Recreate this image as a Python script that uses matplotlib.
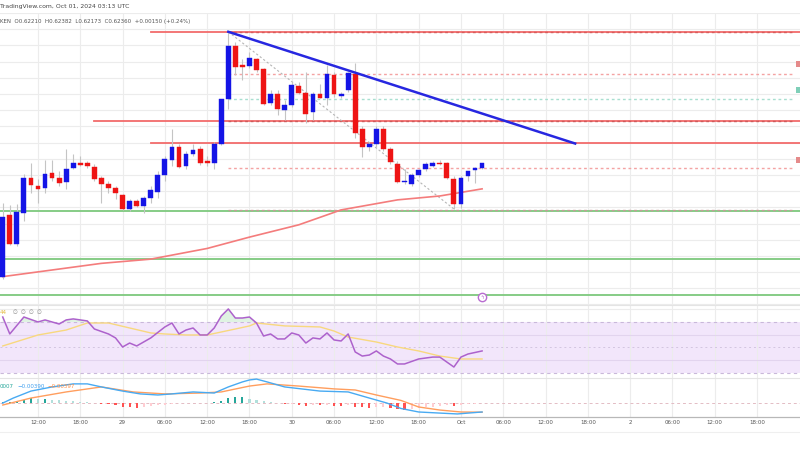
import matplotlib
matplotlib.use("Agg")
import matplotlib.pyplot as plt
from matplotlib.lines import Line2D
from matplotlib.patches import Rectangle
import numpy as np

# XRP/USD 1h candles, x = hours since 28 Sep 2024 00:00 UTC
candle_hours = list(range(7, 76))
opens = [0.5884, 0.6077, 0.5988, 0.6083, 0.6190, 0.6166, 0.6160, 0.6206, 0.6190, 0.6178,
         0.6221, 0.6236, 0.6236, 0.6224, 0.6190, 0.6172, 0.6160, 0.6138, 0.6095, 0.6120,
         0.6105, 0.6129, 0.6147, 0.6199, 0.6245, 0.6285, 0.6227, 0.6264, 0.6279, 0.6242,
         0.6236, 0.6297, 0.6435, 0.6598, 0.6539, 0.6536, 0.6558, 0.6527, 0.6423, 0.6451,
         0.6402, 0.6417, 0.6475, 0.6454, 0.6395, 0.6451, 0.6438, 0.6509, 0.6444, 0.6463,
         0.6512, 0.6343, 0.6285, 0.6294, 0.6343, 0.6279, 0.6233, 0.6178, 0.6172, 0.6199,
         0.6218, 0.6227, 0.6236, 0.6236, 0.6187, 0.6111, 0.6196, 0.6215, 0.6221]
highs = [0.6114, 0.6108, 0.6111, 0.6203, 0.6236, 0.6187, 0.6245, 0.6245, 0.6212, 0.6279,
         0.6264, 0.6258, 0.6242, 0.6233, 0.6196, 0.6181, 0.6166, 0.6141, 0.6126, 0.6126,
         0.6135, 0.6166, 0.6212, 0.6258, 0.6343, 0.6294, 0.6273, 0.6297, 0.6288, 0.6258,
         0.6303, 0.6435, 0.6642, 0.6610, 0.6558, 0.6579, 0.6561, 0.6530, 0.6463, 0.6463,
         0.6432, 0.6487, 0.6487, 0.6518, 0.6457, 0.6481, 0.6539, 0.6518, 0.6457, 0.6518,
         0.6545, 0.6350, 0.6303, 0.6350, 0.6350, 0.6285, 0.6242, 0.6218, 0.6206, 0.6218,
         0.6239, 0.6242, 0.6245, 0.6239, 0.6196, 0.6196, 0.6212, 0.6224, 0.6238]
lows = [0.5880, 0.5985, 0.5982, 0.6059, 0.6144, 0.6114, 0.6144, 0.6181, 0.6166, 0.6157,
        0.6218, 0.6229, 0.6221, 0.6181, 0.6114, 0.6144, 0.6126, 0.6093, 0.6089, 0.6102,
        0.6083, 0.6114, 0.6129, 0.6181, 0.6227, 0.6222, 0.6218, 0.6258, 0.6230, 0.6227,
        0.6218, 0.6291, 0.6405, 0.6509, 0.6493, 0.6530, 0.6518, 0.6417, 0.6417, 0.6386,
        0.6371, 0.6411, 0.6451, 0.6359, 0.6371, 0.6437, 0.6417, 0.6441, 0.6438, 0.6457,
        0.6313, 0.6255, 0.6273, 0.6285, 0.6273, 0.6233, 0.6175, 0.6172, 0.6166, 0.6193,
        0.6212, 0.6224, 0.6230, 0.6187, 0.6095, 0.6098, 0.6181, 0.6175, 0.6217]
closes = [0.6071, 0.5988, 0.6086, 0.6190, 0.6169, 0.6157, 0.6203, 0.6190, 0.6175, 0.6218,
          0.6236, 0.6231, 0.6227, 0.6187, 0.6172, 0.6160, 0.6144, 0.6095, 0.6120, 0.6105,
          0.6129, 0.6154, 0.6199, 0.6248, 0.6285, 0.6224, 0.6264, 0.6276, 0.6236, 0.6236,
          0.6297, 0.6435, 0.6598, 0.6533, 0.6533, 0.6561, 0.6524, 0.6420, 0.6451, 0.6405,
          0.6417, 0.6478, 0.6454, 0.6389, 0.6451, 0.6439, 0.6512, 0.6451, 0.6451, 0.6515,
          0.6331, 0.6285, 0.6297, 0.6343, 0.6279, 0.6239, 0.6178, 0.6179, 0.6199, 0.6215,
          0.6233, 0.6236, 0.6233, 0.6190, 0.6111, 0.6190, 0.6212, 0.6221, 0.6236]

# 100 hourly SMA
sma_hours = [7, 21, 28, 36, 42, 49, 55, 63, 69, 75]
sma_vals = [0.5886, 0.5927, 0.5940, 0.5973, 0.6008, 0.6046, 0.6092, 0.6123, 0.6135, 0.6157]

# drawn levels
red_levels = [0.6642, 0.6365, 0.6300]
red_starts = [28, 20, 28]
green_levels = [0.6089, 0.5941, 0.5829]
trend_hours = [39, 88.2]
trend_vals = [0.6642, 0.6297]
fib_line_hours = [39, 71]
fib_line_vals = [0.6642, 0.6095]
fib_levels = [0.6642, 0.6512, 0.6435, 0.6368, 0.6221, 0.6092]
fib_colors = ["#d85c5c", "#f4a3a3", "#a8dfd0", "#cf5a5a", "#f4a3a3", "#c79a9a"]

# RSI (14) and its MA
rsi_hours = [7, 8, 10, 12, 13, 15, 16, 17, 19, 20, 22, 23, 24, 25, 26, 28, 30, 31, 32, 33,
             34, 35, 36, 37, 38, 39, 40, 41, 42, 43, 44, 45, 46, 47, 48, 49, 50, 51, 52, 53,
             54, 55, 56, 57, 58, 59, 60, 61, 62, 63, 64, 66, 68, 69, 70, 71, 72, 73, 75]
rsi_vals = [73.9, 60.6, 73.9, 70.0, 71.6, 68.4, 71.6, 72.4, 70.8, 64.5, 60.6, 57.5, 50.4, 53.5,
            51.2, 57.5, 66.1, 69.2, 60.6, 63.7, 65.3, 59.8, 59.8, 65.3, 74.7, 80.2, 73.1, 73.1,
            73.9, 69.2, 59.0, 60.6, 56.7, 56.7, 61.4, 59.8, 53.5, 57.5, 56.7, 61.4, 55.9, 55.1,
            60.6, 46.5, 43.3, 44.1, 47.3, 43.3, 41.0, 37.1, 37.1, 41.0, 42.5, 42.5, 38.6, 34.7,
            42.5, 44.9, 47.3]
rsima_hours = [7, 12, 16, 19, 22, 25, 28, 30, 33, 36, 40, 42, 43, 47, 52, 54, 56, 60, 63, 66, 69, 72, 75]
rsima_vals = [51.2, 59.8, 63.7, 69.2, 69.2, 65.3, 61.4, 60.6, 59.8, 59.8, 64.5, 66.9, 69.2, 66.9,
              66.1, 62.9, 58.2, 54.3, 50.4, 47.3, 43.3, 41.0, 41.0]

# MACD
macd_hours = [7, 8.5, 11, 14, 17, 19, 21, 24, 26.5, 29, 31, 34, 37, 39, 41, 42, 43, 44.5, 47,
              52, 56, 59, 61.5, 63.5, 66, 69, 71.5, 75]
macd_vals = [0.0002, 0.0025, 0.0057, 0.0076, 0.0090, 0.0090, 0.0076, 0.0057, 0.0044, 0.0039,
             0.0044, 0.0053, 0.0048, 0.0076, 0.0099, 0.0108, 0.0112, 0.0099, 0.0076, 0.0057,
             0.0053, 0.0025, 0.0002, -0.0023, -0.0039, -0.0044, -0.0048, -0.0039]
signal_hours = [7, 11, 16, 21, 25.5, 30, 35, 38, 42, 44.5, 49, 54, 57, 60, 63.5, 66, 69, 72, 75]
signal_vals = [-0.0007, 0.0025, 0.0053, 0.0076, 0.0053, 0.0044, 0.0048, 0.0053, 0.0080, 0.0090,
               0.0080, 0.0067, 0.0062, 0.0039, 0.0014, -0.0016, -0.0030, -0.0039, -0.0040]
hist_vals = [0.0005, 0.0008, 0.0012, 0.0018, 0.0025, 0.0022, 0.0022, 0.0018, 0.0015, 0.0013,
             0.0012, 0.0008, 0.0005, 0.0002, -0.0002, -0.0004, -0.0008, -0.0014, -0.0018, -0.0021,
             -0.0016, -0.0012, -0.0008, -0.0005, -0.0002, 0.0002, 0.0003, 0.0004, 0.0002, 0.0001,
             0.0006, 0.0012, 0.0025, 0.0028, 0.0028, 0.0022, 0.0018, 0.0010, 0.0006, 0.0002,
             -0.0003, -0.0002, -0.0005, -0.0010, -0.0006, -0.0008, -0.0005, -0.0010, -0.0010, -0.0008,
             -0.0014, -0.0018, -0.0021, -0.0018, -0.0016, -0.0020, -0.0025, -0.0030, -0.0026, -0.0022,
             -0.0018, -0.0014, -0.0010, -0.0008, -0.0012, -0.0006, -0.0003, -0.0001, 0.0001]

tick_hours = [12, 18, 24, 30, 36, 42, 48, 54, 60, 66, 72, 78, 84, 90, 96, 102, 108, 114]
tick_labels = ["12:00", "18:00", "29", "06:00", "12:00", "18:00", "30", "06:00", "12:00",
               "18:00", "Oct", "06:00", "12:00", "18:00", "2", "06:00", "12:00", "18:00"]

UP = "#1414e6"
DOWN = "#ee1414"
GRID = "#ececec"
XMIN, XMAX = 6.61, 120.1

fig = plt.figure(figsize=(8, 4.5), dpi=100)
ax = fig.add_axes([0, 1 - 305 / 450, 1, 292 / 450])
ax_rsi = fig.add_axes([0, 1 - 378 / 450, 1, 73 / 450], sharex=ax)
ax_macd = fig.add_axes([0, 1 - 417 / 450, 1, 39 / 450], sharex=ax)

for a in (ax, ax_rsi, ax_macd):
    for s in a.spines.values():
        s.set_visible(False)
    a.tick_params(length=0, labelleft=False, labelbottom=False)
    a.set_xticks(tick_hours)
    a.grid(axis="x", color=GRID, lw=0.8)
    a.set_axisbelow(True)
ax.set_xlim(XMIN, XMAX)

# ---- main pane ----
ax.set_ylim(0.57984, 0.66925)
ax.set_yticks(np.arange(0.580, 0.6701, 0.005))
ax.grid(axis="y", color=GRID, lw=0.8)

for lvl in green_levels:
    ax.axhline(lvl, color="#86cc86", lw=1.4, zorder=2)
for lvl, x0 in zip(red_levels, red_starts):
    ax.plot([x0, XMAX], [lvl, lvl], color="#f26b6b", lw=1.3, zorder=2)
for lvl, c in zip(fib_levels, fib_colors):
    ax.plot([39, 119.1], [lvl, lvl], color=c, lw=1.0, ls=(0, (2, 2)), zorder=2)
ax.plot(fib_line_hours, fib_line_vals, color="#b5b5b5", lw=0.8, ls=(0, (2, 2)), zorder=2)

ax.plot(sma_hours, sma_vals, color="#f47c7c", lw=1.2, zorder=3)

o = np.array(opens)
c = np.array(closes)
colors = [UP if cc >= oo else DOWN for oo, cc in zip(o, c)]
ax.vlines(candle_hours, lows, highs, color="#c4c4c4", lw=0.8, zorder=4)
body_h = np.maximum(np.abs(c - o), 0.00022)
ax.bar(candle_hours, body_h, bottom=np.minimum(o, c), width=0.68, color=colors,
       edgecolor=colors, lw=0.3, zorder=5)

ax.plot(trend_hours, trend_vals, color="#2727e0", lw=1.8, zorder=6)

ax.plot([75], [0.5823], marker="o", ms=6, mfc="white", mec="#b86cd0", mew=1.0, zorder=6)
ax.text(75, 0.5823, "ϟ", color="#b86cd0", fontsize=4, ha="center", va="center", zorder=7)

# ---- RSI pane ----
ax_rsi.set_ylim(26.1, 83.3)
ax_rsi.axhspan(30, 70, color="#f2e6fb", lw=0, zorder=0)
for lvl in (40, 60):
    ax_rsi.axhline(lvl, color="#e2d4ee", lw=0.8, zorder=1)
ax_rsi.axhline(80, color=GRID, lw=0.8, zorder=1)
for lvl in (70, 30):
    ax_rsi.axhline(lvl, color="#c9b8da", lw=0.8, ls=(0, (3, 3)), zorder=1)
ax_rsi.axhline(50, color="#d3c5e0", lw=0.7, ls=(0, (2, 3)), zorder=1)
rh = np.array(rsi_hours, dtype=float)
rv = np.array(rsi_vals)
ax_rsi.fill_between(rh, rv, 70, where=rv > 70, interpolate=True, color="#dff3e2", lw=0, zorder=2)
ax_rsi.plot(rsima_hours, rsima_vals, color="#f8d87e", lw=1.0, zorder=3)
ax_rsi.plot(rsi_hours, rsi_vals, color="#ad62cc", lw=1.1, zorder=4)
ax_rsi.spines["top"].set_visible(True)
ax_rsi.spines["top"].set_color("#e4e4e4")

# ---- MACD pane ----
ax_macd.set_ylim(-0.0062, 0.0117)
ax_macd.axhline(0, color="#e3bcc4", lw=0.7, ls=(0, (3, 3)), zorder=1)
hist_colors = []
prev = 0.0
for v in hist_vals:
    if v >= 0:
        hist_colors.append("#26a69a" if v >= prev else "#b2dfdb")
    else:
        hist_colors.append("#ff5252" if v <= prev else "#ffcdd2")
    prev = v
ax_macd.bar(candle_hours, hist_vals, width=0.3, color=hist_colors, zorder=2)
ax_macd.plot(signal_hours, signal_vals, color="#ff9e5e", lw=1.0, zorder=3)
ax_macd.plot(macd_hours, macd_vals, color="#48aaf2", lw=1.0, zorder=4)
ax_macd.spines["top"].set_visible(True)
ax_macd.spines["top"].set_color("#e4e4e4")
ax_macd.spines["bottom"].set_visible(True)
ax_macd.spines["bottom"].set_color("#b8b8b8")
ax_macd.spines["bottom"].set_linewidth(0.9)
ax_macd.set_xticks(tick_hours)
ax_macd.set_xticklabels(tick_labels)
ax_macd.tick_params(axis="x", labelbottom=True, labelsize=4, labelcolor="#555555", pad=2.5)

fig.add_artist(Line2D([0, 1], [1 - 432 / 450] * 2, color="#efefef", lw=0.8))

# cut-off level tags on the right edge
for ypx, col in ((64, "#e58a8a"), (90, "#7fcfb8"), (160, "#e58a8a")):
    fig.add_artist(Rectangle((796 / 800, 1 - (ypx + 3) / 450), 4 / 800, 6 / 450,
                             color=col, lw=0))


def ftext(x, y, s, color, size=4, **kw):
    fig.text(x / 800, 1 - y / 450, s, color=color, fontsize=size, ha="left", va="center", **kw)


ftext(0, 6.5, "TradingView.com, Oct 01, 2024 03:13 UTC", "#444444", size=4.4)
ftext(0, 22, "KEN  O0.62210  H0.62382  L0.62173  C0.62360  +0.00150 (+0.24%)", "#555555")
ftext(0, 312, "44", "#e3b93c")
for xx in (13, 21, 29, 37):
    ftext(xx, 312, "∅", "#8a8a8a")
ftext(0, 386, "0007", "#26a69a")
ftext(17, 386, "−0.00390", "#3f9fef")
ftext(47, 386, "−0.00397", "#ff8c42")

fig.savefig("out.png", dpi=100)
